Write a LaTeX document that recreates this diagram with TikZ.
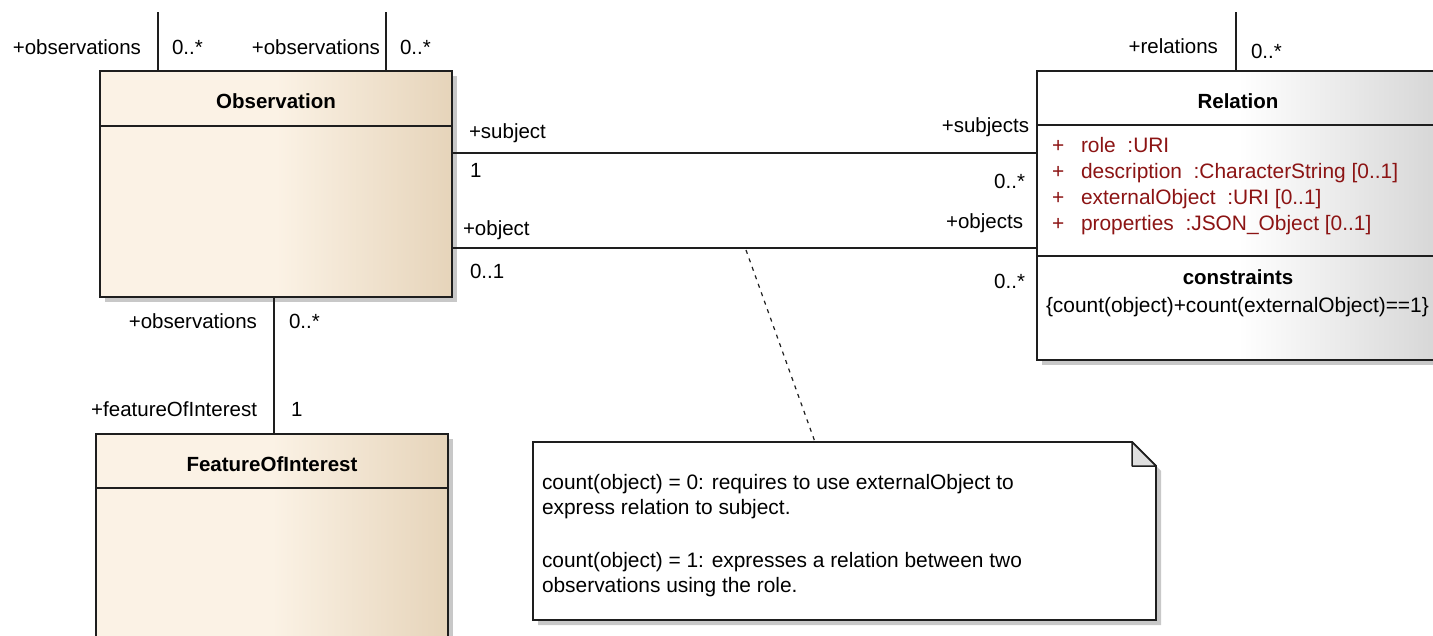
\documentclass[tikz,border=0pt]{standalone}
\usepackage{fontspec}
\setmainfont{Liberation Sans}
\usetikzlibrary{shadows}
\definecolor{obsL}{RGB}{251,242,229}
\definecolor{obsR}{RGB}{230,212,186}
\definecolor{relR}{RGB}{214,214,214}
\definecolor{attr}{RGB}{140,20,20}
\definecolor{edge}{RGB}{30,30,30}
\definecolor{shad}{RGB}{200,200,200}
\pgfdeclarehorizontalshading{obsshade}{100bp}{color(0bp)=(obsL); color(50bp)=(obsL); color(75bp)=(obsR); color(100bp)=(obsR)}
\pgfdeclarehorizontalshading{relshade}{100bp}{color(0bp)=(white); color(50bp)=(white); color(75bp)=(relR); color(100bp)=(relR)}
\tikzset{
  lbl/.style={inner sep=0pt, outer sep=0pt, font=\fontsize{20.5}{24}\selectfont, text=black},
  txt/.style={lbl, font=\fontsize{20.9}{24}\selectfont},
  ttl/.style={lbl, font=\fontsize{20.5}{24}\selectfont\bfseries},
  att/.style={txt, text=attr},
  umlbox/.style={draw=edge, line width=1.8pt, inner sep=0pt, outer sep=0pt, shade,
     drop shadow={shadow xshift=5pt, shadow yshift=-5pt, fill=shad, opacity=1}},
  assoc/.style={draw=edge, line width=1.4pt},
  notelink/.style={draw=edge, line width=1.2pt, dash pattern=on 4pt off 5pt},
}
\begin{document}
\begin{tikzpicture}[x=1pt, y=-1pt]
\useasboundingbox (0,0) rectangle (1433,635);
\fill[white] (0,0) rectangle (1433,635);
\clip (0,0) rectangle (1433,635);

% boxes
\node[umlbox, shading=obsshade, minimum width=352pt, minimum height=226pt] (obs) at (276,184) {};
\node[umlbox, shading=obsshade, minimum width=352pt, minimum height=226pt] (foi) at (272,547) {};
\node[umlbox, shading=relshade, minimum width=403pt, minimum height=289pt] (rel) at (1238.5,215.5) {};

% compartments
\draw[assoc, line width=1.6pt] (obs.west |- 0,126) -- (obs.east |- 0,126);
\draw[assoc, line width=1.6pt] (foi.west |- 0,488) -- (foi.east |- 0,488);
\draw[assoc, line width=1.6pt] (rel.west |- 0,125) -- (rel.east |- 0,125);
\draw[assoc, line width=1.6pt] (rel.west |- 0,256) -- (rel.east |- 0,256);

% titles
\node[ttl, anchor=base] (tobs) at (276,108) {Observation};
\node[ttl, anchor=base] (tfoi) at (272,471) {FeatureOfInterest};
\node[ttl, anchor=base] (trel) at (1238,108) {Relation};
\node[ttl, anchor=base] (tcon) at (1238,284) {constraints};

% attributes
\node[att, anchor=base west] (p1) at (1052,152) {+};
\node[att, anchor=base west] (a1) at (1081,152) {role\ \ :URI};
\node[att, anchor=base west] (p2) at (1052,178) {+};
\node[att, anchor=base west] (a2) at (1081,178) {description\ \ :CharacterString [0..1]};
\node[att, anchor=base west] (p3) at (1052,204) {+};
\node[att, anchor=base west] (a3) at (1081,204) {externalObject\ \ :URI [0..1]};
\node[att, anchor=base west] (p4) at (1052,230) {+};
\node[att, anchor=base west] (a4) at (1081,230) {properties\ \ :JSON\_Object [0..1]};
\node[txt, anchor=base west] (c1) at (1046,312) {\{count(object)+count(externalObject)==1\}};

% top dangling associations
\coordinate (t1) at (158,12);
\coordinate (t2) at (386,12);
\coordinate (t3) at (1236,12);
\draw[assoc] (t1) -- (obs.north -| t1);
\draw[assoc] (t2) -- (obs.north -| t2);
\draw[assoc] (t3) -- (rel.north -| t3);
\node[lbl, anchor=base east] (l1) at (141,54) {+observations};
\node[lbl, anchor=base west] (m1) at (172,54) {0..*};
\node[lbl, anchor=base east] (l2) at (380,54) {+observations};
\node[lbl, anchor=base west] (m2) at (400,54) {0..*};
\node[lbl, anchor=base east] (l3) at (1218,53) {+relations};
\node[lbl, anchor=base west] (m3) at (1251,58) {0..*};

% subject / object associations
\draw[assoc] (obs.east |- 0,153) -- (rel.west |- 0,153);
\draw[assoc] (obs.east |- 0,248) -- (rel.west |- 0,248);
\node[lbl, anchor=base west] (s1) at (469,138) {+subject};
\node[lbl, anchor=base west] (s2) at (470,177) {1};
\node[lbl, anchor=base east] (s3) at (1029,132) {+subjects};
\node[lbl, anchor=base east] (s4) at (1025,188) {0..*};
\node[lbl, anchor=base west] (o1) at (463,235) {+object};
\node[lbl, anchor=base west] (o2) at (470,278) {0..1};
\node[lbl, anchor=base east] (o3) at (1023,228) {+objects};
\node[lbl, anchor=base east] (o4) at (1025,288) {0..*};

% featureOfInterest association
\draw[assoc] (obs.south -| 274,0) -- (foi.north -| 274,0);
\node[lbl, anchor=base east] (f1) at (257,328) {+observations};
\node[lbl, anchor=base west] (f2) at (289,328) {0..*};
\node[lbl, anchor=base east] (f3) at (257,416) {+featureOfInterest};
\node[lbl, anchor=base west] (f4) at (291,416) {1};

% note
\node[inner sep=0pt, outer sep=0pt, minimum width=623pt, minimum height=178pt] (note) at (844.5,531) {};
\fill[shad] ([xshift=5pt,yshift=-5pt]note.north west) -- ([xshift=-19pt,yshift=-5pt]note.north east) -- ([xshift=5pt,yshift=-29pt]note.north east) -- ([xshift=5pt,yshift=-5pt]note.south east) -- ([xshift=5pt,yshift=-5pt]note.south west) -- cycle;
\draw[draw=edge, line width=1.8pt, fill=white] (note.north west) -- ([xshift=-24pt]note.north east) -- ([yshift=-24pt]note.north east) -- (note.south east) -- (note.south west) -- cycle;
\draw[draw=edge, line width=1.5pt, fill=gray!25, line join=round] ([xshift=-24pt]note.north east) -- ([xshift=-24pt,yshift=-24pt]note.north east) -- ([yshift=-24pt]note.north east) -- cycle;
\node[txt, anchor=base west] (n1) at (542,489) {count(object) = 0: requires to use externalObject to};
\node[txt, anchor=base west] (n2) at (542,514) {express relation to subject.};
\node[txt, anchor=base west] (n3) at (542,567) {count(object) = 1: expresses a relation between two};
\node[txt, anchor=base west] (n4) at (542,592) {observations using the role.};

% note link
\coordinate (nl) at (746,250);
\draw[notelink] (nl) -- (note.north -| 815,0);
\end{tikzpicture}
\end{document}
